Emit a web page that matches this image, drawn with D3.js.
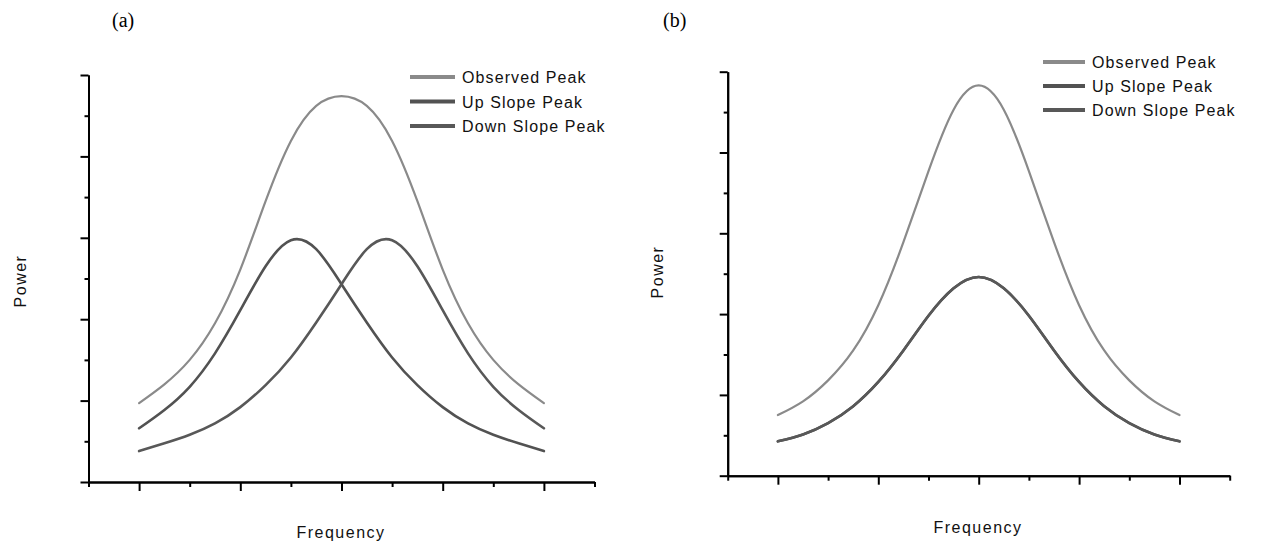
<!DOCTYPE html>
<html>
<head>
<meta charset="utf-8">
<script src="https://cdn.jsdelivr.net/npm/d3@7/dist/d3.min.js"></script>
<style>
  html, body { margin: 0; padding: 0; background: #fff; }
  svg { display: block; }
  .lbl { font-family: "Liberation Sans", Arial, sans-serif; fill: #111; }
  .panel { font-family: "Liberation Serif", "Times New Roman", serif; fill: #000; }
</style>
</head>
<body>
<svg id="chart" width="1262" height="544"></svg>
<script>
// Frequency positions of the sampled points (arbitrary units)
const freq = [1, 1.5, 2, 2.5, 3, 3.5, 4, 4.5, 5, 5.5, 6, 6.5, 7, 7.5, 8, 8.5, 9];

// (a) two separated component peaks and the observed (combined) peak
const observedA  = [9.7, 12.0, 15.0, 19.5, 26.1, 34.5, 41.9, 46.2, 47.4, 46.2, 41.9, 34.5, 26.1, 19.5, 15.0, 12.0, 9.7];
const upSlopeA   = [6.6, 8.85, 11.7, 15.8, 21.1, 26.5, 29.7, 28.6, 24.3, 19.6, 15.3, 11.9, 9.2, 7.2, 5.8, 4.75, 3.8];
const downSlopeA = [3.8, 4.75, 5.8, 7.2, 9.2, 11.9, 15.3, 19.6, 24.3, 28.6, 29.7, 26.5, 21.1, 15.8, 11.7, 8.85, 6.6];

// (b) coincident component peaks and the observed peak
const observedB  = [7.5, 9.2, 11.8, 15.5, 21.1, 28.9, 37.7, 45.3, 48.3, 45.3, 37.7, 28.9, 21.1, 15.5, 11.8, 9.2, 7.5];
const upSlopeB   = [4.25, 5.1, 6.5, 8.6, 11.6, 15.5, 19.8, 23.2, 24.6, 23.2, 19.8, 15.5, 11.6, 8.6, 6.5, 5.1, 4.25];
const downSlopeB = [4.25, 5.1, 6.5, 8.6, 11.6, 15.5, 19.8, 23.2, 24.6, 23.2, 19.8, 15.5, 11.6, 8.6, 6.5, 5.1, 4.25];

// Axis ticks (no labels shown)
const yMajor = [0, 10, 20, 30, 40, 50];
const yMinor = [5, 15, 25, 35, 45];
const xMajor = [1, 3, 5, 7, 9];
const xMinor = [0, 2, 4, 6, 8, 10];

const seriesNames = ["Observed Peak", "Up Slope Peak", "Down Slope Peak"];
const seriesColors = ["#8a8a8a", "#525252", "#585858"];
const seriesWidths = [2.2, 2.6, 2.6];

const svg = d3.select("#chart");

function drawPanel(cfg) {
  const g = svg.append("g");
  const x = d3.scaleLinear().domain([0, 10]).range([cfg.x0, cfg.x1]);
  const y = d3.scaleLinear().domain([0, 50]).range([cfg.y0, cfg.y1]);

  // smooth curves through the sampled points
  const line = d3.line()
    .x((d, i) => x(freq[i]))
    .y(d => y(d))
    .curve(d3.curveNatural);

  cfg.series.forEach((vals, k) => {
    g.append("path")
      .datum(vals)
      .attr("d", line)
      .attr("fill", "none")
      .attr("stroke", seriesColors[k])
      .attr("stroke-width", seriesWidths[k])
      .attr("stroke-linecap", "round");
  });

  // axes: major and minor ticks, no labels
  const yAxisMajor = d3.axisLeft(y).tickValues(yMajor).tickSize(8).tickSizeOuter(0).tickFormat("");
  const yAxisMinor = d3.axisLeft(y).tickValues(yMinor).tickSize(4).tickSizeOuter(0).tickFormat("");
  const xAxisMajor = d3.axisBottom(x).tickValues(xMajor).tickSize(9).tickSizeOuter(0).tickFormat("");
  const xAxisMinor = d3.axisBottom(x).tickValues(xMinor).tickSize(5).tickSizeOuter(0).tickFormat("");

  [yAxisMajor, yAxisMinor].forEach(ax => {
    g.append("g").attr("transform", `translate(${cfg.x0},0)`).call(ax);
  });
  [xAxisMajor, xAxisMinor].forEach(ax => {
    g.append("g").attr("transform", `translate(0,${cfg.y0})`).call(ax);
  });
  g.selectAll(".domain, .tick line")
    .attr("stroke", "#000")
    .attr("stroke-width", 2);

  // axis titles
  g.append("text")
    .attr("class", "lbl")
    .attr("x", cfg.freqX).attr("y", cfg.freqY)
    .attr("text-anchor", "middle")
    .style("font-size", "16px")
    .style("letter-spacing", "1.5px")
    .text("Frequency");

  g.append("text")
    .attr("class", "lbl")
    .attr("transform", `translate(${cfg.powX},${cfg.powY}) rotate(-90)`)
    .attr("text-anchor", "middle")
    .style("font-size", "16px")
    .style("letter-spacing", "1.5px")
    .text("Power");

  // legend
  const leg = g.append("g");
  seriesNames.forEach((name, k) => {
    const ly = cfg.legY + k * cfg.legStep;
    leg.append("line")
      .attr("x1", cfg.legX).attr("x2", cfg.legX + cfg.legLen)
      .attr("y1", ly).attr("y2", ly)
      .attr("stroke", seriesColors[k])
      .attr("stroke-width", 4);
    leg.append("text")
      .attr("class", "lbl")
      .attr("x", cfg.legX + cfg.legLen + 7)
      .attr("y", ly + 6)
      .style("font-size", "16px")
      .style("letter-spacing", "1.1px")
      .text(name);
  });

  // panel tag
  svg.append("text")
    .attr("class", "panel")
    .attr("x", cfg.tagX).attr("y", 27)
    .style("font-size", "20px")
    .text(cfg.tag);
}

drawPanel({
  tag: "(a)", tagX: 112,
  x0: 88.5, x1: 594.5, y0: 482, y1: 75,
  series: [observedA, upSlopeA, downSlopeA],
  freqX: 341, freqY: 538, powX: 26, powY: 281,
  legX: 410, legLen: 45, legY: 77, legStep: 24.5
});

drawPanel({
  tag: "(b)", tagX: 663,
  x0: 727.7, x1: 1229.7, y0: 475.7, y1: 71.7,
  series: [observedB, upSlopeB, downSlopeB],
  freqX: 978, freqY: 533, powX: 663, powY: 272,
  legX: 1043, legLen: 42, legY: 62, legStep: 24
});
</script>
</body>
</html>
